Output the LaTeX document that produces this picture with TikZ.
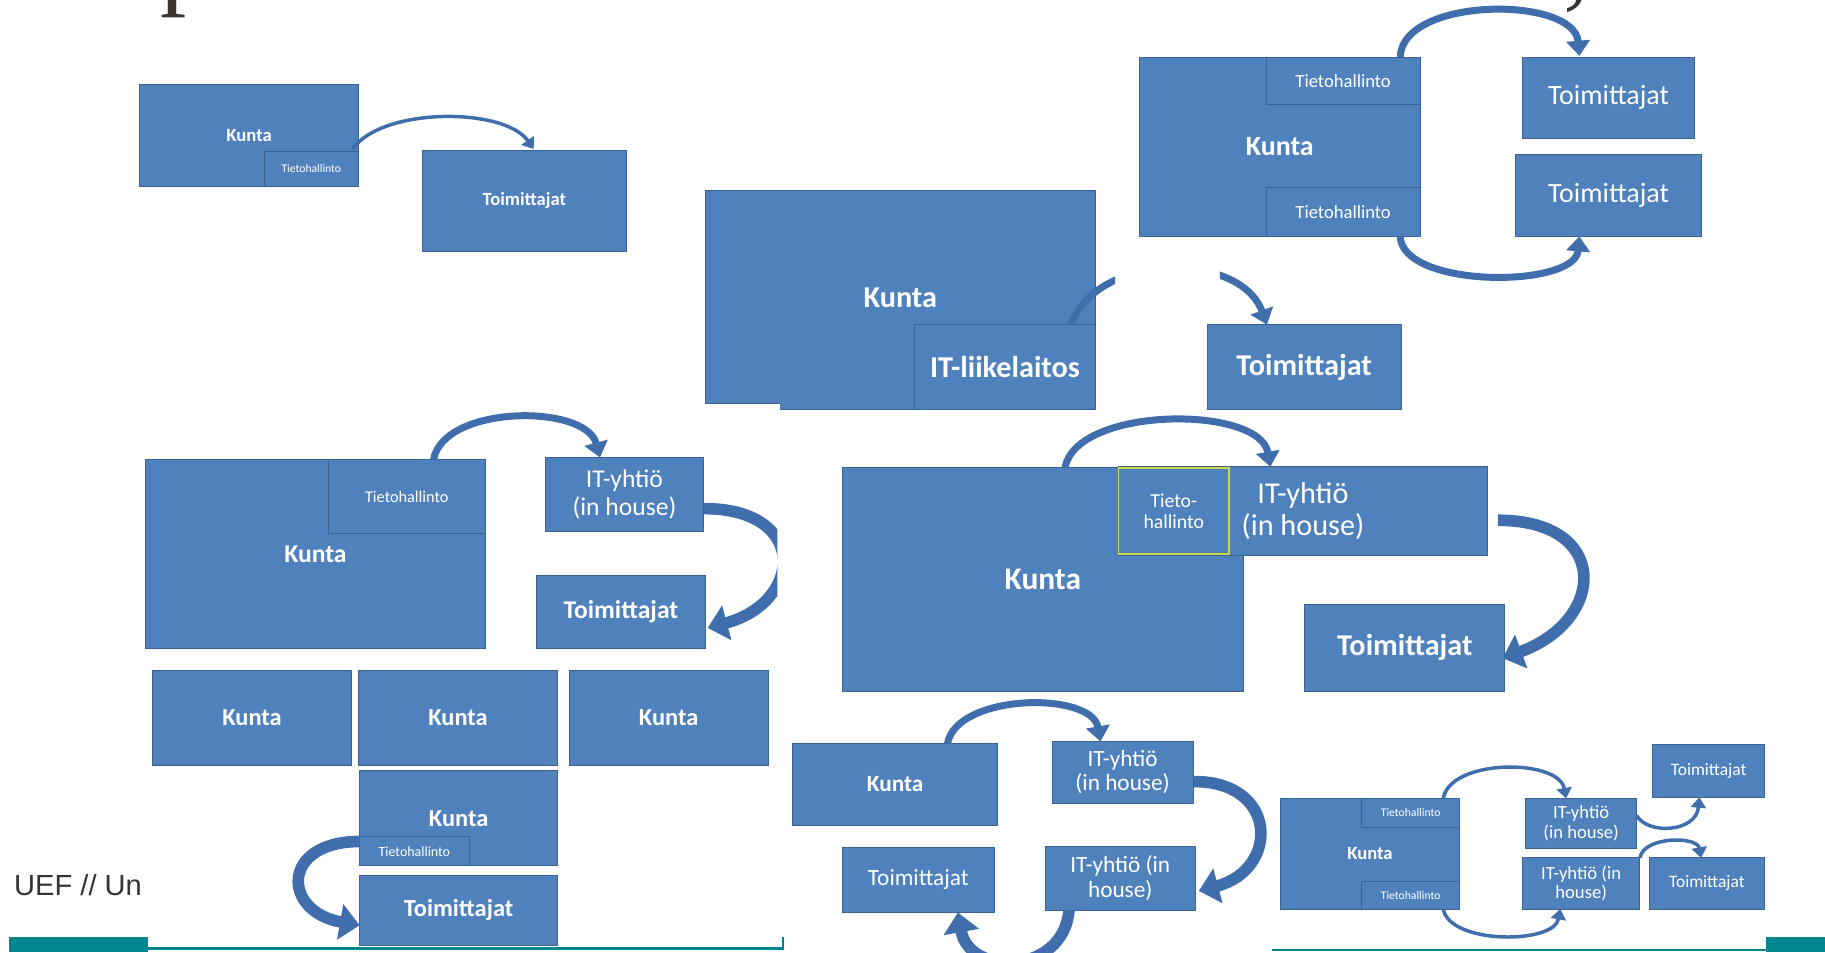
\documentclass[tikz,border=0pt]{standalone}
\usepackage{fontspec}
\setmainfont{Carlito}
\newfontfamily\ueffont{Liberation Sans}
\newfontfamily\headfont{Liberation Serif}
\usetikzlibrary{arrows.meta}

\definecolor{boxblue}{RGB}{79,129,189}
\definecolor{boxedge}{RGB}{60,98,145}
\definecolor{arcblue}{RGB}{64,110,172}
\definecolor{uefteal}{RGB}{0,134,142}
\definecolor{tietoyellow}{RGB}{205,214,70}
\definecolor{ueftext}{RGB}{55,52,50}
\newcommand{\fsz}[2]{\fontsize{#1}{#2}\selectfont}

\begin{document}
\begin{tikzpicture}[x=1pt,y=1pt]
    \tikzstyle{blk}=[draw=boxedge,fill=boxblue,line width=0.8pt,inner sep=0pt,outer sep=0pt,text=white,align=center]
    \tikzstyle{arcthin}=[draw=arcblue,line width=3pt,-{Triangle[width=13pt,length=9pt]}]
    \tikzstyle{arc}=[draw=arcblue,line width=6pt,-{Triangle[width=20pt,length=13pt]}]
    \tikzstyle{fatarc}=[draw=arcblue,line width=10pt,-{Triangle[width=30pt,length=17pt]}]

    \useasboundingbox (0,0) rectangle (1568,-818);
    \fill[white] (0,0) rectangle (1568,-818);

    % Title, cut off at the top
    \node[anchor=base west,inner sep=0pt,text=ueftext,font=\headfont\fsz{90}{90}] (headp) at (138,4) {p};
    \node[anchor=base west,inner sep=0pt,text=ueftext,font=\headfont\fsz{90}{90}] (headc) at (1343,3) {,};

    % Kunta -> Toimittajat (top left)
    \node[blk,font=\bfseries\fsz{16}{17}] (kuntaA) at (214,-116.5) [minimum width=188pt,minimum height=87pt] {Kunta};
    \node[blk,font=\fsz{10}{11}] (tietoA) at (267.5,-145) [minimum width=81pt,minimum height=30pt] {Tietohallinto};
    \node[blk,font=\bfseries\fsz{16}{17}] (toimA) at (450.5,-172.5) [minimum width=175pt,minimum height=87pt] {Toimittajat};
    \draw[arcthin] ([xshift=-5pt,yshift=2pt]tietoA.north east) .. controls +(55:44) and +(125:44) .. ([xshift=8pt,yshift=1pt]toimA.north);

    % IT-liikelaitos
    \node[blk,font=\bfseries\fsz{26}{27}] (kuntaB) at (773.5,-255.5) [minimum width=335pt,minimum height=183pt] {Kunta};
    \fill[boxblue] (670,-340) rectangle (786,-352);
    \draw[boxedge,line width=0.8pt] (670,-352) -- (786,-352);
    \node[blk,font=\bfseries\fsz{26}{27}] (liikeB) at (863.5,-315.5) [minimum width=155pt,minimum height=73pt] {IT-liikelaitos};
    \node[blk,font=\bfseries\fsz{26}{27}] (toimB) at (1120.5,-315.5) [minimum width=167pt,minimum height=73pt] {Toimittajat};
    \begin{scope}
        \clip (900,-200) rectangle (958,-300) (1048,-200) rectangle (1120,-300);
        \draw[arc] ([xshift=-21pt]liikeB.north east) .. controls +(70:67) and +(110:67) .. ([xshift=-32pt]toimB.north);
    \end{scope}

    % Two Tietohallinto units
    \node[blk,font=\bfseries\fsz{24}{25}] (kuntaC) at (1099.5,-126) [minimum width=241pt,minimum height=154pt] {Kunta};
    \node[blk,font=\fsz{16}{17}] (tietoCt) at (1154,-69.5) [minimum width=132pt,minimum height=41pt] {Tietohallinto};
    \node[blk,font=\fsz{16}{17}] (tietoCb) at (1154,-182) [minimum width=132pt,minimum height=42pt] {Tietohallinto};
    \node[blk,font=\fsz{24}{25}] (toimCt) at (1382,-84) [minimum width=148pt,minimum height=70pt] {Toimittajat};
    \node[blk,font=\fsz{24}{25}] (toimCb) at (1382,-168) [minimum width=160pt,minimum height=70pt] {Toimittajat};
    \draw[arc] ([xshift=-17pt]kuntaC.north east) .. controls +(88:52) and +(95:52) .. ([xshift=-25pt,yshift=1pt]toimCt.north);
    \draw[arc] ([xshift=-17pt]kuntaC.south east) .. controls +(-88:45) and +(-95:45) .. ([xshift=-25pt]toimCb.south);

    % IT-yhtio beside Kunta
    \node[blk,font=\bfseries\fsz{22}{23}] (kuntaD) at (271,-476) [minimum width=292pt,minimum height=162pt] {Kunta};
    \node[blk,font=\fsz{14}{15}] (tietoD) at (349.5,-426.5) [minimum width=135pt,minimum height=63pt] {Tietohallinto};
    \node[blk,font=\fsz{22}{24}] (yhtioD) at (536.5,-425) [minimum width=135pt,minimum height=64pt] {IT-yhtiö\\(in house)};
    \node[blk,font=\bfseries\fsz{22}{23}] (toimD) at (533.5,-525.5) [minimum width=145pt,minimum height=63pt] {Toimittajat};
    \draw[arc] ([xshift=23pt]tietoD.north) .. controls +(80:48) and +(105:48) .. ([xshift=-21pt]yhtioD.north);
    \begin{scope}
        \clip (0,0) rectangle (668,-818);
        \draw[fatarc] ([xshift=1pt,yshift=-12pt]yhtioD.east) .. controls +(0:90) and +(15:85) .. ([xshift=2pt,yshift=-14pt]toimD.east);
    \end{scope}

    % Several Kunta
    \node[blk,font=\bfseries\fsz{21}{22}] (kuntaK1) at (216.5,-617) [minimum width=171pt,minimum height=82pt] {Kunta};
    \node[blk,font=\bfseries\fsz{21}{22}] (kuntaK2) at (393.5,-617) [minimum width=171pt,minimum height=82pt] {Kunta};
    \node[blk,font=\bfseries\fsz{21}{22}] (kuntaK3) at (574.5,-617) [minimum width=171pt,minimum height=82pt] {Kunta};
    \node[blk,font=\bfseries\fsz{21}{22}] (kuntaK4) at (394,-703) [minimum width=170pt,minimum height=82pt] {Kunta};
    \node[blk,font=\fsz{12}{13}] (tietoK4) at (356,-731.5) [minimum width=94pt,minimum height=25pt] {Tietohallinto};
    \node[blk,font=\bfseries\fsz{21}{22}] (toimK4) at (394,-782) [minimum width=170pt,minimum height=60pt] {Toimittajat};
    \draw[fatarc] ([yshift=-4pt]tietoK4.north west) .. controls +(180:68) and +(170:68) .. ([yshift=-13pt]toimK4.west);

    % Tietohallinto inside IT-yhtio
    \node[blk,font=\bfseries\fsz{27}{28}] (kuntaE) at (896,-498) [minimum width=344pt,minimum height=192pt] {Kunta};
    \node[blk,font=\fsz{26}{28}] (yhtioE) at (1119.5,-439) [minimum width=317pt,minimum height=76pt] {IT-yhtiö\\(in house)};
    \node[blk,draw=tietoyellow,line width=1.5pt,font=\fsz{17}{18}] (tietoE) at (1008.5,-439) [minimum width=95pt,minimum height=74pt] {Tieto-\\hallinto};
    \node[blk,font=\bfseries\fsz{26}{27}] (toimE) at (1207,-556.5) [minimum width=172pt,minimum height=75pt] {Toimittajat};
    \draw[arc] ([xshift=19pt]kuntaE.north) .. controls +(80:54) and +(100:54) .. ([xshift=-28pt]yhtioE.north);
    \draw[fatarc] ([xshift=9pt,yshift=-8pt]yhtioE.east) .. controls +(0:97) and +(20:95) .. ([xshift=-2pt,yshift=-9pt]toimE.east);

    % Two IT-yhtio
    \node[blk,font=\bfseries\fsz{20}{21}] (kuntaF) at (769,-674) [minimum width=176pt,minimum height=70pt] {Kunta};
    \node[blk,font=\fsz{20}{21}] (yhtioF1) at (964.5,-663.5) [minimum width=121pt,minimum height=53pt] {IT-yhtiö\\(in house)};
    \node[blk,font=\fsz{20}{21}] (toimF) at (789,-756) [minimum width=130pt,minimum height=56pt] {Toimittajat};
    \node[blk,font=\fsz{20}{21}] (yhtioF2) at (962.5,-754.5) [minimum width=129pt,minimum height=55pt] {IT-yhtiö (in\\house)};
    \draw[arc] ([xshift=45pt]kuntaF.north) .. controls +(80:44) and +(100:44) .. ([xshift=-19pt]yhtioF1.north);
    \draw[fatarc] ([xshift=1pt,yshift=-8pt]yhtioF1.east) .. controls +(0:72) and +(15:72) .. ([xshift=3pt,yshift=-11pt]yhtioF2.east);
    \draw[fatarc] ([xshift=-44pt]yhtioF2.south) .. controls +(-95:56) and +(-80:56) .. ([xshift=34pt]toimF.south);

    % Kunta, IT-yhtio and Toimittajat in pairs
    \node[blk,font=\bfseries\fsz{16}{17}] (kuntaG) at (1177,-733.5) [minimum width=154pt,minimum height=95pt] {Kunta};
    \node[blk,font=\fsz{10}{11}] (tietoGt) at (1212,-698.5) [minimum width=84pt,minimum height=25pt] {Tietohallinto};
    \node[blk,font=\fsz{10}{11}] (tietoGb) at (1212,-769) [minimum width=84pt,minimum height=24pt] {Tietohallinto};
    \node[blk,font=\fsz{16}{17}] (yhtioG1) at (1358.5,-707.5) [minimum width=95pt,minimum height=43pt] {IT-yhtiö\\(in house)};
    \node[blk,font=\fsz{16}{17}] (yhtioG2) at (1358.5,-759) [minimum width=101pt,minimum height=44pt] {IT-yhtiö (in\\house)};
    \node[blk,font=\fsz{15}{16}] (toimG1) at (1468,-662.5) [minimum width=96pt,minimum height=45pt] {Toimittajat};
    \node[blk,font=\fsz{15}{16}] (toimG2) at (1466.5,-759) [minimum width=99pt,minimum height=44pt] {Toimittajat};
    \draw[arcthin] ([xshift=28pt]tietoGt.north) .. controls +(80:35) and +(100:35) .. ([xshift=-13pt]yhtioG1.north);
    \draw[arcthin] ([xshift=28pt]tietoGb.south) .. controls +(-80:31) and +(-100:31) .. ([xshift=-18pt]yhtioG2.south);
    \draw[arcthin] ([yshift=7pt]yhtioG1.east) .. controls +(-60:20) and +(-95:30) .. ([xshift=-8pt]toimG1.south);
    \draw[arcthin] (yhtioG2.north east) .. controls +(80:19) and +(100:19) .. ([xshift=-5pt]toimG2.north);

    % Footer
    \node[anchor=base west,inner sep=0pt,text=ueftext,font=\ueffont\fsz{25}{25}] (uef) at (12,-769) {UEF // Un};
    \fill[uefteal] (8,-805) rectangle (127,-818);
    \draw[uefteal,line width=2pt] (127,-815) -- (673,-815) -- (673,-805);
    \draw[uefteal,line width=2pt] (1093,-816) -- (1517,-816);
    \fill[uefteal] (1517,-805) rectangle (1568,-818);
\end{tikzpicture}
\end{document}
